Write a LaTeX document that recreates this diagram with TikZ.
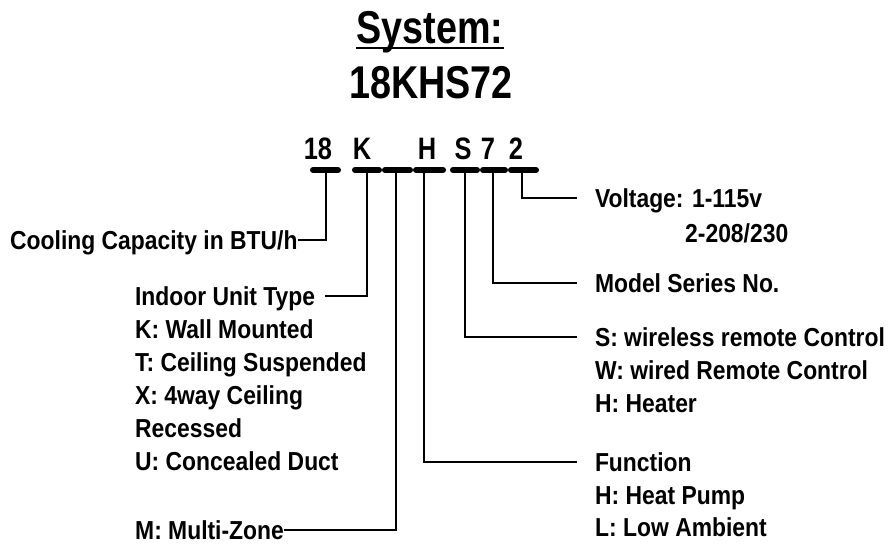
\documentclass[tikz,border=0pt]{standalone}
\usepackage{fontspec}
\setmainfont{Liberation Sans}[FakeStretch=0.88]
\newfontfamily\headfont{Liberation Sans}[FakeStretch=0.82]
\usetikzlibrary{positioning}

\begin{document}
\begin{tikzpicture}[
  x=1pt, y=-1pt,
  every node/.style={inner sep=0pt, text height=19pt, text depth=0pt},
  heading/.style={font=\headfont\bfseries\fontsize{46}{50}\selectfont, anchor=base},
  code/.style={font=\headfont\bfseries\fontsize{31}{34}\selectfont, anchor=base},
  desc/.style={font=\bfseries\fontsize{26}{30}\selectfont, anchor=west},
  rdesc/.style={desc, outer xsep=18pt},
  bar/.style={line width=6pt, line cap=round},
  link/.style={line width=1.6pt}
]
\useasboundingbox[fill=white] (0,0) rectangle (889,544);

% title
\node[heading] (sys) at (430,43) {System:};
\node[heading] (model) at (431,98) {18KHS72};
\draw[line width=2.5pt] ([yshift=-5pt]sys.base west) -- ([yshift=-5pt]sys.base east);

% code letters
\node[code] (c18) at (318,159) {18};
\node[code] (cK)  at (362,159) {K};
\node[code] (cH)  at (427,159) {H};
\node[code] (cS)  at (463,159) {S};
\node[code] (c7)  at (488,159) {7};
\node[code] (c2)  at (516,159) {2};

% bars under the code
\foreach \a/\b in {313/338, 355/379, 385/410, 416/443, 453/477, 483/505, 511/536}
  \draw[bar] (\a,170) -- (\b,170);

\coordinate (b18) at (326,170);
\coordinate (bK)  at (367,170);
\coordinate (bM)  at (396,170);
\coordinate (bH)  at (424,170);
\coordinate (bS)  at (465,170);
\coordinate (b7)  at (493,170);
\coordinate (b2)  at (522,170);

% left side
\node[desc] (cool) at (10,240) {Cooling Capacity in BTU/h};
\node[desc, outer xsep=10pt] (indoor) at (125,296) {Indoor Unit Type};
\node[desc] (typK) at (135,329) {K: Wall Mounted};
\node[desc] (typT) at (135,362) {T: Ceiling Suspended};
\node[desc] (typX) at (135,395) {X: 4way Ceiling};
\node[desc] (typR) at (135,428) {Recessed};
\node[desc] (typU) at (135,461) {U: Concealed Duct};
\node[desc] (multi) at (135,530) {M: Multi-Zone};

% right side
\node[rdesc] (volt) at (577,198) {Voltage: 1-115v};
\node[desc] (volt2) at (685,233) {2-208/230};
\node[rdesc] (series) at (577,283) {Model Series No.};
\node[rdesc] (remote) at (577,337) {S: wireless remote Control};
\node[desc] (wired) at (595,370) {W: wired Remote Control};
\node[desc] (heater) at (595,403) {H: Heater};
\node[rdesc] (func) at (577,462) {Function};
\node[desc] (pump) at (595,495) {H: Heat Pump};
\node[desc] (amb) at (595,527) {L: Low Ambient};

% connectors
\draw[link] (b18) |- (cool.east);
\draw[link] (bK) |- (indoor.east);
\draw[link] (bM) |- (multi.east);
\draw[link] (bH) |- (func.west);
\draw[link] (bS) |- (remote.west);
\draw[link] (b7) |- (series.west);
\draw[link] (b2) |- (volt.west);
\end{tikzpicture}
\end{document}
